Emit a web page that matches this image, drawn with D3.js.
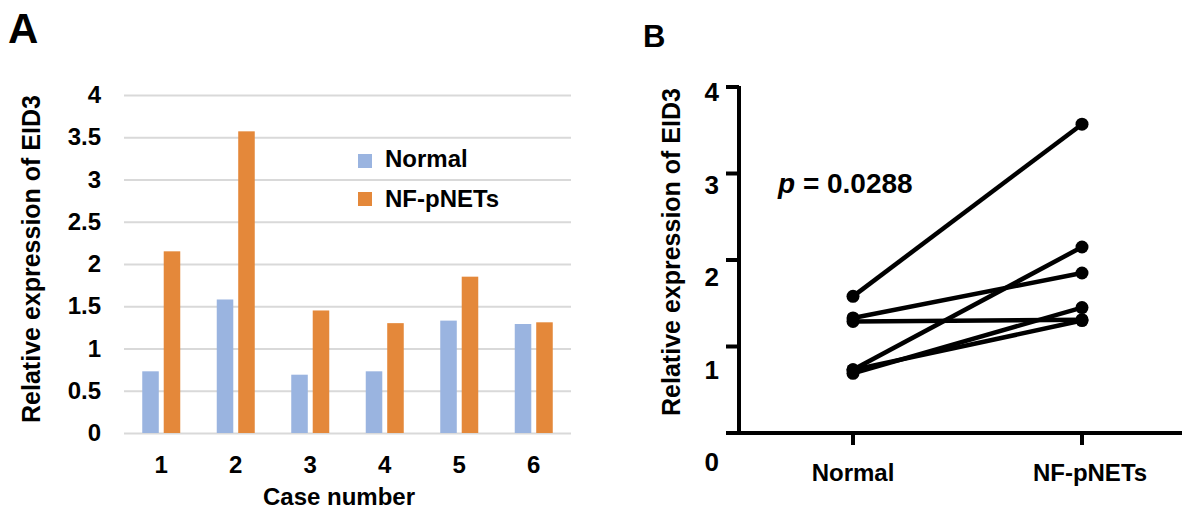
<!DOCTYPE html>
<html>
<head>
<meta charset="utf-8">
<script src="https://cdn.jsdelivr.net/npm/d3@7"></script>
<style>
  html, body { margin: 0; padding: 0; background: #fff; }
  svg { display: block; font-family: "Liberation Sans", Arial, sans-serif; font-weight: bold; }
</style>
</head>
<body>
<svg id="fig" width="1182" height="510"></svg>
<script>
// data
const cases = ["1", "2", "3", "4", "5", "6"];
const normalVals = [0.73, 1.58, 0.69, 0.73, 1.33, 1.29];
const tumorVals = [2.15, 3.57, 1.45, 1.30, 1.85, 1.31];
const seriesNames = ["Normal", "NF-pNETs"];
const seriesColors = ["#9ab4e0", "#e4883a"];
const yTicksA = [0, 0.5, 1, 1.5, 2, 2.5, 3, 3.5, 4];
const yTicksB = [0, 1, 2, 3, 4];
const groupsB = ["Normal", "NF-pNETs"];

let svg = d3.select("#fig");

// ---------- panel A : grouped bars ----------
let yA = d3.scaleLinear().domain([0, 4]).range([433, 95]);
let x0 = d3.scaleBand().domain(cases).range([124, 571]);
let groupW = 38;
let x1 = d3.scaleBand().domain(seriesNames).range([0, groupW]).paddingInner(0.23);

let gA = svg.append("g");

let yAxisA = d3.axisLeft(yA).tickValues(yTicksA).tickSize(-(571 - 124)).tickPadding(23)
    .tickFormat(d => d3.format("")(d));
let ga = gA.append("g").attr("transform", "translate(124,0)").call(yAxisA);
ga.select(".domain").remove();
ga.selectAll("line").attr("stroke", "#d9d9d9").attr("stroke-width", 2);
ga.selectAll("text").attr("font-size", 24).attr("fill", "#000")
    .attr("font-family", "'Liberation Sans', Arial, sans-serif").attr("font-weight", "bold");

let barData = [];
cases.forEach((c, i) => {
    barData.push({ c: c, s: seriesNames[0], v: normalVals[i], col: seriesColors[0] });
    barData.push({ c: c, s: seriesNames[1], v: tumorVals[i], col: seriesColors[1] });
});

gA.selectAll("rect.bar").data(barData).enter().append("rect")
    .attr("class", "bar")
    .attr("x", d => x0(d.c) + (x0.bandwidth() - groupW) / 2 + x1(d.s))
    .attr("y", d => yA(d.v))
    .attr("width", x1.bandwidth())
    .attr("height", d => yA(0) - yA(d.v))
    .attr("fill", d => d.col);

gA.selectAll("text.case").data(cases).enter().append("text")
    .attr("class", "case")
    .attr("x", d => x0(d) + x0.bandwidth() / 2)
    .attr("y", 473)
    .attr("text-anchor", "middle")
    .attr("font-size", 24)
    .text(d => d);

gA.append("text").attr("x", 339).attr("y", 505).attr("text-anchor", "middle")
    .attr("font-size", 24).text("Case number");

gA.append("text").attr("transform", "translate(40,259) rotate(-90)")
    .attr("text-anchor", "middle").attr("font-size", 25)
    .text("Relative expression of EID3");

// legend
seriesNames.forEach((s, i) => {
    let ly = [154, 192][i];
    gA.append("rect").attr("x", 358).attr("y", ly).attr("width", 14).attr("height", 14)
        .attr("fill", seriesColors[i]);
    gA.append("text").attr("x", 385).attr("y", ly + 13 + i * 2).attr("font-size", 24).text(s);
});

gA.append("text").attr("x", 8).attr("y", 43).attr("font-size", 42).text("A");

// ---------- panel B : paired dots ----------
let yB = d3.scaleLinear().domain([0, 4]).range([433, 87]);
// tick labels in the figure sit on their own, slightly stretched scale
let yLabB = d3.scaleLinear().domain([0, 4]).range([462, 92]);
let xB = d3.scalePoint().domain(groupsB).range([853, 1082]);

let gB = svg.append("g");

gB.append("line").attr("x1", 739).attr("x2", 739).attr("y1", yB(4) - 1).attr("y2", yB(0))
    .attr("stroke", "#000").attr("stroke-width", 4);
gB.append("line").attr("x1", 726).attr("x2", 1182).attr("y1", yB(0)).attr("y2", yB(0))
    .attr("stroke", "#000").attr("stroke-width", 4);

gB.selectAll("line.ytick").data(yTicksB).enter().append("line")
    .attr("class", "ytick")
    .attr("x1", 726).attr("x2", 739)
    .attr("y1", d => yB(d)).attr("y2", d => yB(d))
    .attr("stroke", "#000").attr("stroke-width", 4);

gB.selectAll("text.ylab").data(yTicksB).enter().append("text")
    .attr("class", "ylab")
    .attr("x", 719).attr("y", d => yLabB(d)).attr("dy", "0.36em")
    .attr("text-anchor", "end").attr("font-size", 26)
    .text(d => d);

gB.selectAll("line.xtick").data(groupsB).enter().append("line")
    .attr("class", "xtick")
    .attr("x1", d => xB(d)).attr("x2", d => xB(d))
    .attr("y1", yB(0)).attr("y2", yB(0) + 12)
    .attr("stroke", "#000").attr("stroke-width", 4);

gB.selectAll("text.xlab").data(groupsB).enter().append("text")
    .attr("class", "xlab")
    .attr("x", (d, i) => xB(d) + i * 8).attr("y", 481)
    .attr("text-anchor", "middle").attr("font-size", 24)
    .text(d => d);

gB.append("text").attr("transform", "translate(680,252) rotate(-90)")
    .attr("text-anchor", "middle").attr("font-size", 25)
    .text("Relative expression of EID3");

let pairs = cases.map((c, i) => [normalVals[i], tumorVals[i]]);

gB.selectAll("line.pair").data(pairs).enter().append("line")
    .attr("class", "pair")
    .attr("x1", xB(groupsB[0])).attr("x2", xB(groupsB[1]))
    .attr("y1", d => yB(d[0])).attr("y2", d => yB(d[1]))
    .attr("stroke", "#000").attr("stroke-width", 4.5);

pairs.forEach(p => {
    p.forEach((v, j) => {
        gB.append("circle").attr("cx", xB(groupsB[j])).attr("cy", yB(v)).attr("r", 6.5).attr("fill", "#000");
    });
});

let pt = gB.append("text").attr("x", 778).attr("y", 193).attr("font-size", 28);
pt.append("tspan").attr("font-style", "italic").text("p");
pt.append("tspan").text(" = 0.0288");

gB.append("text").attr("x", 643).attr("y", 47).attr("font-size", 31).text("B");
</script>
</body>
</html>
